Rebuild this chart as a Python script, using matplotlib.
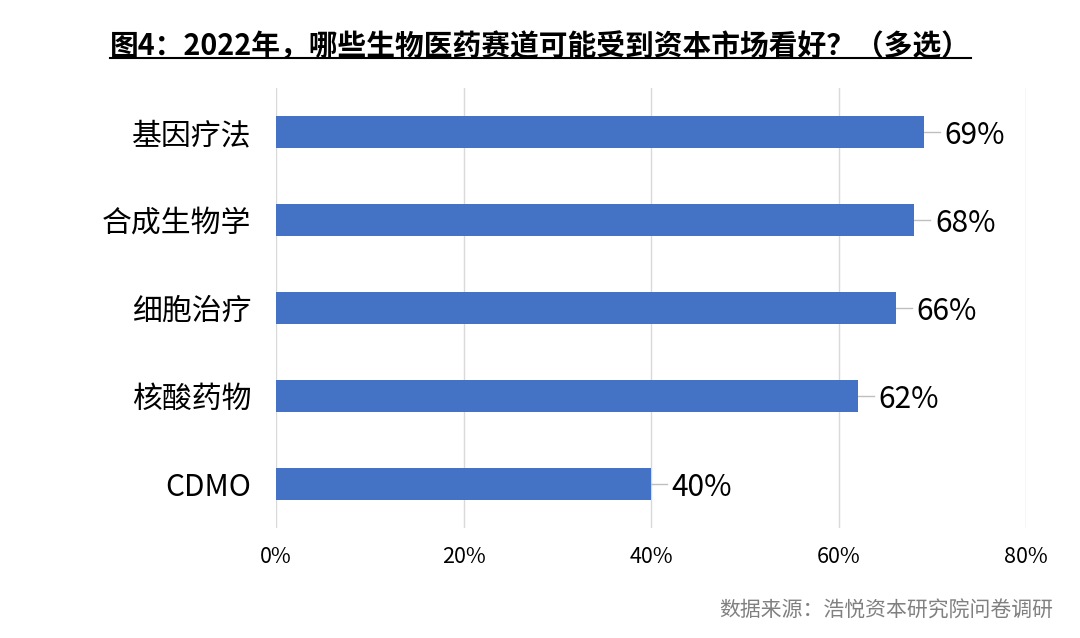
import matplotlib
matplotlib.use('Agg')
import matplotlib.pyplot as plt
from matplotlib.lines import Line2D

plt.rcParams['font.family'] = ['Noto Sans CJK SC', 'DejaVu Sans']

# dados do gráfico (de cima para baixo)
categorias = ['基因疗法', '合成生物学', '细胞治疗', '核酸药物', 'CDMO']
valores = [69.1, 68.1, 66.1, 62.1, 40.0]
rotulos = ['69%', '68%', '66%', '62%', '40%']
ticks_x = [0, 20, 40, 60, 80]
ticks_txt = ['0%', '20%', '40%', '60%', '80%']

titulo = '图4：2022年，哪些生物医药赛道可能受到资本市场看好？（多选）'
fonte = '数据来源：浩悦资本研究院问卷调研'
cor_barra = '#4472C4'

fig = plt.figure(figsize=(10.8, 6.38), dpi=100)
ax = fig.add_axes([0.2556, 0.1724, 0.6944, 0.6896])

pos = list(range(len(categorias)))
ax.barh(pos, valores, height=0.37, color=cor_barra, zorder=3)
ax.set_ylim(len(categorias) - 0.5, -0.5)
ax.set_xlim(0, 80)
ax.set_yticks(pos)
ax.set_yticklabels(categorias, fontsize=21.5)
ax.set_xticks(ticks_x)
ax.set_xticklabels(ticks_txt, fontsize=15.5)
ax.tick_params(axis='both', length=0)
ax.tick_params(axis='y', pad=18)
ax.tick_params(axis='x', pad=13)
ax.grid(axis='x', color='#d9d9d9', linewidth=1, zorder=0)
for lado in ax.spines.values():
    lado.set_visible(False)

# rótulos com linha guia
for i, v in enumerate(valores):
    ax.plot([v, v + 1.7], [i, i], color='#bfbfbf', linewidth=1, zorder=2)
    ax.text(v + 2.2, i, rotulos[i], fontsize=21.5, va='center_baseline', ha='left')

t = fig.text(0.5, 0.928, titulo, fontsize=20.7, fontweight='bold',
             ha='center', va='center')
fig.canvas.draw()
bb = t.get_window_extent().transformed(fig.transFigure.inverted())
fig.add_artist(Line2D([bb.x0, bb.x1], [bb.y0 + 0.004, bb.y0 + 0.004],
                      transform=fig.transFigure, color='black', linewidth=1.5))

fig.text(0.975, 0.043, fonte, fontsize=15, color='#808080',
         ha='right', va='center')

fig.savefig('out.png', dpi=100)
